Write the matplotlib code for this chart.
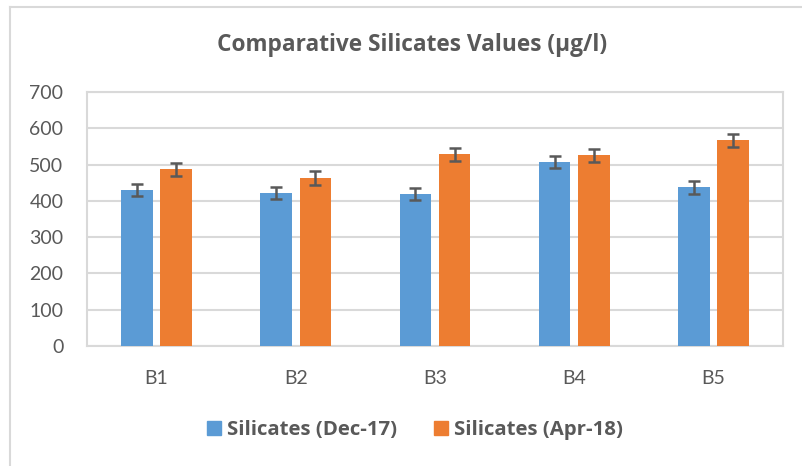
import matplotlib
matplotlib.use("Agg")
import matplotlib.pyplot as plt
import numpy as np
from matplotlib.lines import Line2D

categories = ["B1", "B2", "B3", "B4", "B5"]
dec17 = [430, 421, 418, 508, 437]
apr18 = [487, 463, 529, 526, 567]
dec17_err = [17, 17, 17, 17, 17]
apr18_err = [18, 19, 18, 18, 18]
series_names = ["Silicates (Dec-17)", "Silicates (Apr-18)"]
yticks = [0, 100, 200, 300, 400, 500, 600, 700]

plt.rcParams['font.family'] = ['Lato', 'DejaVu Sans']
txt = "#595959"
grid = "#d9d9d9"
bold_family = ['Open Sans', 'DejaVu Sans']

fig = plt.figure(figsize=(8.02, 4.66), dpi=100)
ax = fig.add_axes([87/802, 1-346/466, (783-87)/802, (346-92)/466])

x = np.arange(len(categories))
w = 0.226
off = 0.141
ax.bar(x - off, dec17, w, color="#5B9BD5", zorder=3, label=series_names[0])
ax.bar(x + off, apr18, w, color="#ED7D31", zorder=3, label=series_names[1])
ekw = dict(fmt="none", ecolor=txt, elinewidth=1.8, capsize=4.5, capthick=1.8, zorder=4)
ax.errorbar(x - off, dec17, yerr=dec17_err, **ekw)
ax.errorbar(x + off, apr18, yerr=apr18_err, **ekw)

ax.set_xlim(-0.5, len(categories) - 0.5)
ax.set_ylim(0, 700)
ax.set_yticks(yticks)
ax.set_xticks(x)
ax.set_xticklabels(categories)
ax.yaxis.grid(True, color=grid, linewidth=1.5, zorder=0)
ax.set_axisbelow(True)
for s in ["left", "right", "top", "bottom"]:
    ax.spines[s].set_color(grid)
    ax.spines[s].set_linewidth(1.5)
ax.tick_params(axis="both", length=0, colors=txt, labelsize=14)
ax.tick_params(axis="y", pad=17)
ax.tick_params(axis="x", pad=17)

fig.text(412/802, 1-45/466, "Comparative Silicates Values (µg/l)", ha="center", va="center",
         fontsize=16.3, fontweight="bold", color=txt, family=bold_family)

handles = [plt.Rectangle((0, 0), 1, 1, color="#5B9BD5"), plt.Rectangle((0, 0), 1, 1, color="#ED7D31")]
fig.legend(handles, series_names, loc="center", bbox_to_anchor=(415/802, 1-430/466), ncol=2,
           frameon=False, prop={"weight": "bold", "size": 14.7, "family": bold_family}, labelcolor=txt,
           handlelength=0.7, handleheight=0.7, handletextpad=0.3, columnspacing=1.8)

fig.add_artist(Line2D([10/802, 10/802], [0, 1-7/466], transform=fig.transFigure, color=grid, linewidth=1.5))
fig.add_artist(Line2D([10/802, 1], [1-7/466, 1-7/466], transform=fig.transFigure, color=grid, linewidth=1.5))

fig.savefig("out.png", dpi=100, facecolor="white")
